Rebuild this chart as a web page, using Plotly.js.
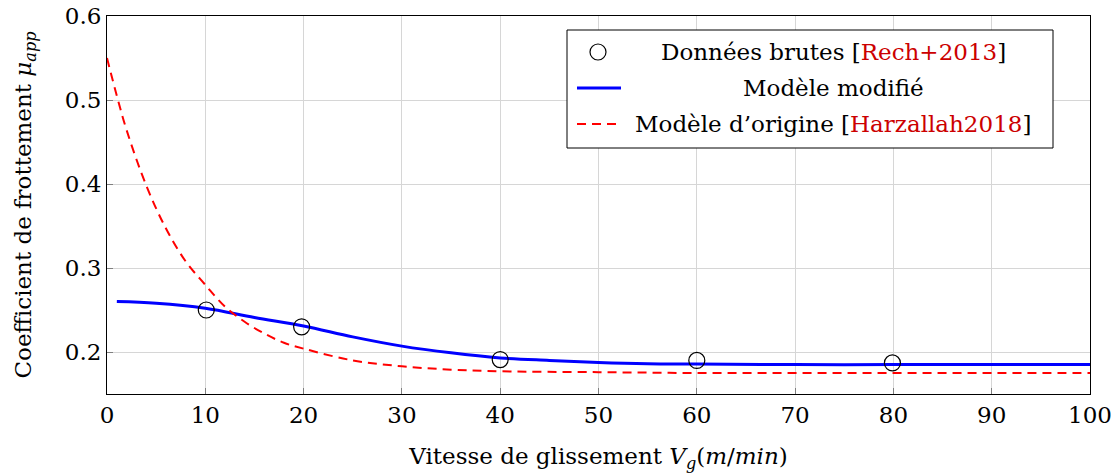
<!DOCTYPE html>
<html>
<head>
<meta charset="utf-8">
<script src="https://cdn.plot.ly/plotly-3.0.1.min.js"></script>
<style>html,body{margin:0;padding:0;background:#fff;}</style>
</head>
<body>
<div id="chart" style="width:1118px;height:475px;"></div>
<script>
// Raw data points [Rech+2013]
const rawX = [10.1, 19.8, 40, 60, 79.9];
const rawY = [0.250, 0.230, 0.191, 0.190, 0.187];

// Modified model (blue)
const modX = [1, 5, 10, 15, 20, 25, 30, 35, 40, 45, 50, 55, 60, 70, 80, 90, 100];
const modY = [0.260, 0.258, 0.252, 0.241, 0.231, 0.218, 0.207, 0.199, 0.193, 0.190, 0.1875, 0.186, 0.1857, 0.185, 0.185, 0.185, 0.185];

// Original model [Harzallah2018] (red dashed)
const origX = [0, 1, 2, 4, 6, 8, 10, 12, 14, 16, 18, 20, 25, 30, 35, 40, 50, 60, 70, 80, 90, 100];
const origY = [0.550, 0.505, 0.464, 0.398, 0.347, 0.308, 0.280, 0.254, 0.236, 0.222, 0.211, 0.204, 0.190, 0.183, 0.179, 0.177, 0.176, 0.175, 0.175, 0.175, 0.175, 0.175];

const xTicks = [0, 10, 20, 30, 40, 50, 60, 70, 80, 90, 100];
const yTicks = [0.2, 0.3, 0.4, 0.5, 0.6];

const FONT = 'DejaVu Serif, Liberation Serif, serif';
const FS = 23;
const CITE = 'rgb(204,0,0)';

const traces = [
  {x: modX, y: modY, mode: 'lines', line: {color: '#0000ff', width: 3, shape: 'spline'}, showlegend: false},
  {x: origX, y: origY, mode: 'lines', line: {color: '#ff0000', width: 2, dash: '9px,6px', shape: 'spline'}, showlegend: false},
  {x: rawX, y: rawY, mode: 'markers', marker: {symbol: 'circle-open', size: 16, color: '#000', line: {width: 1.2, color: '#000'}}, showlegend: false}
];

function px2x(p){ return (p - 107) / 983; }
function px2y(p){ return (394 - p) / 378; }

const layout = {
  width: 1118, height: 475,
  margin: {l: 107, r: 28, t: 16, b: 81},
  paper_bgcolor: '#fff', plot_bgcolor: '#fff',
  font: {family: FONT, size: FS, color: '#000'},
  showlegend: false,
  xaxis: {
    range: [0, 100], tickvals: xTicks, ticktext: xTicks.map(String),
    ticks: 'inside', ticklen: 6, tickcolor: '#7f7f7f',
    showgrid: true, gridcolor: '#d6d6d6', gridwidth: 1, zeroline: false,
    showline: true, mirror: true, linecolor: '#000', linewidth: 1,
    tickfont: {family: FONT, size: FS},
    title: {text: 'Vitesse de glissement <i>V<sub>g</sub></i>(<i>m</i>/<i>min</i>)', font: {family: FONT, size: FS}, standoff: 21}
  },
  yaxis: {
    range: [0.15, 0.6], tickvals: yTicks, ticktext: yTicks.map(v => v.toFixed(1)),
    ticks: 'inside', ticklen: 6, tickcolor: '#7f7f7f',
    showgrid: true, gridcolor: '#d6d6d6', gridwidth: 1, zeroline: false,
    showline: true, mirror: true, linecolor: '#000', linewidth: 1,
    tickfont: {family: FONT, size: FS},
    title: {text: 'Coefficient de frottement <i>μ<sub>app</sub></i>', font: {family: FONT, size: FS}, standoff: 26}
  },
  shapes: [
    {type: 'rect', xref: 'paper', yref: 'paper', x0: px2x(567), x1: px2x(1053), y0: px2y(148), y1: px2y(30),
     line: {color: '#000', width: 1}, fillcolor: '#fff', layer: 'above'},
    {type: 'circle', xref: 'paper', yref: 'paper', x0: px2x(590), x1: px2x(606), y0: px2y(60), y1: px2y(44),
     line: {color: '#000', width: 1.2}, layer: 'above'},
    {type: 'line', xref: 'paper', yref: 'paper', x0: px2x(577), x1: px2x(621), y0: px2y(88), y1: px2y(88),
     line: {color: '#0000ff', width: 3}, layer: 'above'},
    {type: 'line', xref: 'paper', yref: 'paper', x0: px2x(577), x1: px2x(618), y0: px2y(124), y1: px2y(124),
     line: {color: '#ff0000', width: 2, dash: '9px,6px'}, layer: 'above'}
  ],
  annotations: [
    {xref: 'paper', yref: 'paper', x: px2x(833), y: px2y(52), xanchor: 'center', yanchor: 'middle', showarrow: false,
     text: 'Données brutes [<span style="color:' + CITE + '">Rech+2013</span>]', font: {family: FONT, size: FS}},
    {xref: 'paper', yref: 'paper', x: px2x(833), y: px2y(88), xanchor: 'center', yanchor: 'middle', showarrow: false,
     text: 'Modèle modifié', font: {family: FONT, size: FS}},
    {xref: 'paper', yref: 'paper', x: px2x(833), y: px2y(124), xanchor: 'center', yanchor: 'middle', showarrow: false,
     text: 'Modèle d’origine [<span style="color:' + CITE + '">Harzallah2018</span>]', font: {family: FONT, size: FS}}
  ]
};

Plotly.newPlot('chart', traces, layout, {staticPlot: true, displayModeBar: false});
</script>
</body>
</html>
